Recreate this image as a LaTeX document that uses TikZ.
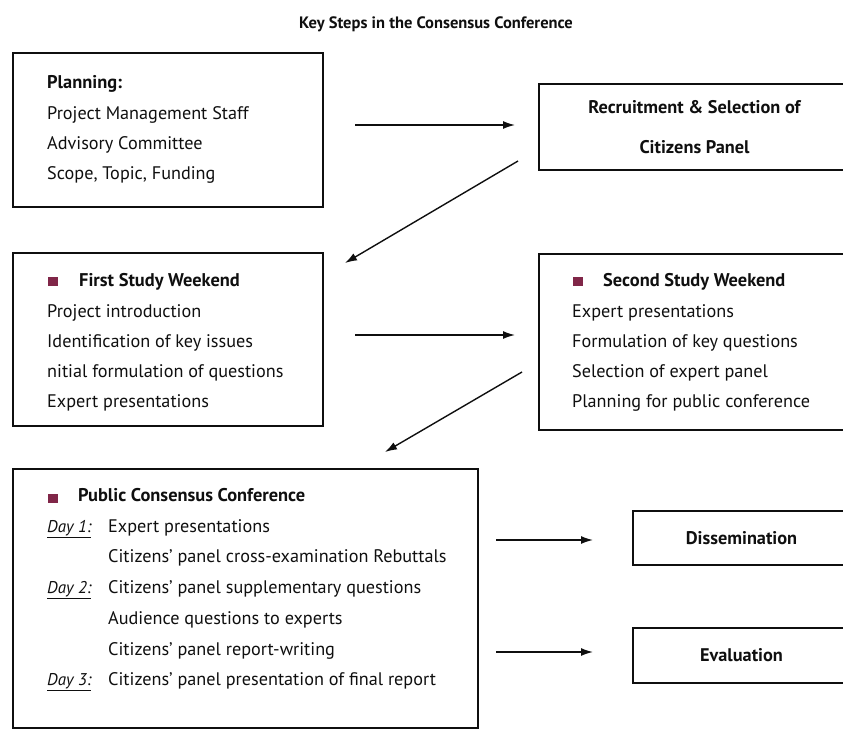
\documentclass[tikz,border=0pt]{standalone}
\usepackage{fontspec}
\setmainfont{PT Sans}
\usetikzlibrary{arrows.meta}
\definecolor{maroon}{RGB}{128,38,72}
\definecolor{ink}{RGB}{15,15,15}
\begin{document}
\begin{tikzpicture}[x=1pt,y=-1pt,
  box/.style={draw=ink, line width=1.7pt, inner sep=0pt, outer sep=0pt},
  cbox/.style={box, align=center, font=\fontsize{18.3}{40}\selectfont\bfseries, text=ink},
  txt/.style={anchor=base west, inner sep=0pt, text=ink, font=\fontsize{18.2}{20}\selectfont},
  daylbl/.style={txt, font=\fontsize{17}{20}\selectfont},
  head/.style={txt, font=\fontsize{18.4}{20}\selectfont\bfseries},
  bullet/.style={fill=maroon, draw=none, minimum width=10pt, minimum height=9pt, inner sep=0pt},
  arr/.style={draw=ink, line width=1.4pt, -{Latex[length=12pt,width=8pt]}}]
\useasboundingbox (0,0) rectangle (843,731);
\clip (0,0) rectangle (843,731);

% title
\node[inner sep=0pt, anchor=base, text=ink, font=\fontsize{16.5}{18}\selectfont\bfseries] (title) at (436,28) {Key Steps in the Consensus Conference};

% frames
\node[box, minimum width=310pt, minimum height=154pt] (plan) at (168,130) {};
\node[cbox, minimum width=311pt, minimum height=86pt] (recruit) at (694.5,127) {Recruitment \& Selection of\\Citizens Panel};
\node[box, minimum width=310pt, minimum height=173pt] (first) at (168,339.5) {};
\node[box, minimum width=311pt, minimum height=176pt] (second) at (694.5,342) {};
\node[box, minimum width=465pt, minimum height=259pt] (public) at (245.5,598.5) {};
\node[cbox, minimum width=217pt, minimum height=54pt] (dissem) at (741.5,538) {Dissemination};
\node[cbox, minimum width=217pt, minimum height=55pt] (evalbox) at (741.5,655.5) {Evaluation};

% planning
\node[head] (p0) at (47,88) {Planning:};
\node[txt] (p1) at (47,119) {Project Management Staff};
\node[txt] (p2) at (47,149) {Advisory Committee};
\node[txt] (p3) at (47,179) {Scope, Topic, Funding};

% first study weekend
\node[bullet] (b1) at (53,281) {};
\node[head] (f0) at (79,286) {First Study Weekend};
\node[txt] (f1) at (47,317) {Project introduction};
\node[txt] (f2) at (47,347) {Identification of key issues};
\node[txt] (f3) at (47,377) {nitial formulation of questions};
\node[txt] (f4) at (47,407) {Expert presentations};

% second study weekend
\node[bullet] (b2) at (578,281) {};
\node[head] (s0) at (603,286) {Second Study Weekend};
\node[txt] (s1) at (572,317) {Expert presentations};
\node[txt] (s2) at (572,347) {Formulation of key questions};
\node[txt] (s3) at (572,377) {Selection of expert panel};
\node[txt] (s4) at (572,407) {Planning for public conference};

% public conference
\node[bullet] (b3) at (53,498) {};
\node[head] (c0) at (78,501) {Public Consensus Conference};
\node[daylbl] (d1) at (47,532) {\underline{\itshape Day 1:}};
\node[txt] (c1) at (108,532) {Expert presentations};
\node[txt] (c2) at (108,562) {Citizens' panel cross-examination Rebuttals};
\node[daylbl] (d2) at (47,593) {\underline{\itshape Day 2:}};
\node[txt] (c3) at (108,593) {Citizens' panel supplementary questions};
\node[txt] (c4) at (108,624) {Audience questions to experts};
\node[txt] (c5) at (108,655) {Citizens' panel report-writing};
\node[daylbl] (d3) at (47,685) {\underline{\itshape Day 3:}};
\node[txt] (c6) at (108,685) {Citizens' panel presentation of final report};

% connectors
\draw[arr, shorten <=32pt, shorten >=24pt] ([yshift=5pt]plan.east) -- ([yshift=2pt]recruit.west);
\draw[arr] ([xshift=-21pt,yshift=9pt]recruit.south west) -- ([xshift=22pt,yshift=-10pt]first.north east);
\draw[arr, shorten <=32pt, shorten >=24pt] ([yshift=4.5pt]first.east) -- ([yshift=7pt]second.west);
\draw[arr] ([xshift=-17pt,yshift=-30pt]second.west) -- ([xshift=-93pt,yshift=17pt]public.north east);
\draw[arr, shorten <=18pt, shorten >=40pt] ([yshift=58.5pt]public.east) -- ([yshift=-2pt]dissem.west);
\draw[arr, shorten <=18pt, shorten >=40pt] ([yshift=-53.5pt]public.east) -- ([yshift=3.5pt]evalbox.west);
\end{tikzpicture}
\end{document}
